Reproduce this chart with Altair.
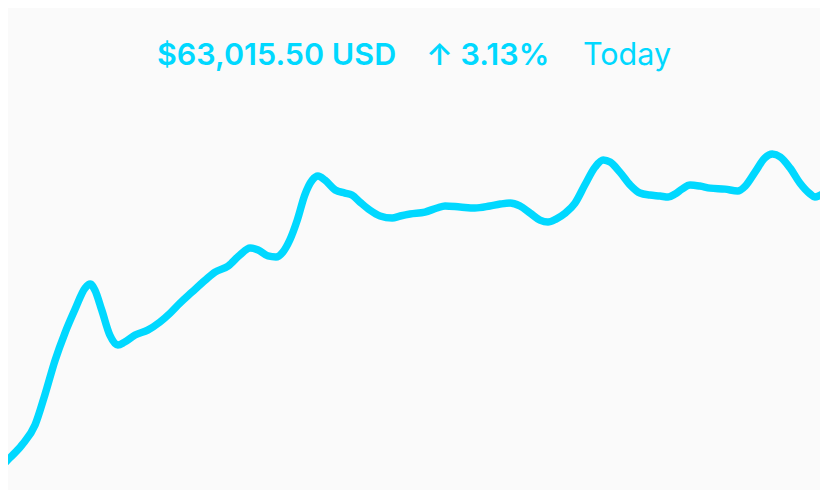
import altair as alt
import pandas as pd

# minutes since start of day
minutes = [0, 17, 38, 61, 78, 96, 113, 130, 148, 157, 165, 177, 191, 205, 217, 235,
           257, 278, 296, 313, 334, 357, 374, 397, 417, 435, 449, 466, 480, 492, 504,
           517, 530, 543, 553, 565, 583, 600, 612, 626, 643, 661, 682, 696, 713, 739,
           760, 774, 800, 826, 852, 870, 887, 904, 922, 939, 953, 967, 983, 1000, 1017,
           1035, 1049, 1061, 1078, 1096, 1113, 1130, 1148, 1162, 1174, 1186, 1200, 1217,
           1235, 1261, 1283, 1296, 1313, 1330, 1343, 1357, 1374, 1391, 1409, 1417, 1430, 1440]
# price in USD
prices = [61103, 61172, 61261, 61399, 61605, 61846, 62032, 62190, 62341, 62369, 62328,
          62190, 62018, 61949, 61970, 62018, 62052, 62107, 62169, 62238, 62314, 62396,
          62451, 62493, 62568, 62617, 62603, 62562, 62555, 62589, 62672, 62809, 62981,
          63084, 63112, 63084, 63016, 62995, 62981, 62933, 62878, 62837, 62823, 62837,
          62851, 62864, 62892, 62906, 62899, 62892, 62906, 62919, 62926, 62906, 62857,
          62809, 62795, 62816, 62857, 62926, 63050, 63174, 63222, 63208, 63139, 63050,
          62995, 62981, 62974, 62967, 62988, 63022, 63050, 63043, 63029, 63022, 63009,
          63043, 63139, 63236, 63263, 63243, 63167, 63064, 62988, 62967, 62988, 63016]

header_price = "$63,015.50 USD"
header_change = "↑ 3.13%"
header_period = "Today"

n = min(len(minutes), len(prices))
df = pd.DataFrame({"minute": minutes[:n], "price": prices[:n]})

CYAN = "#00d8ff"
FONT = "Inter"

line = alt.Chart(df).mark_line(
    color=CYAN, strokeWidth=7.5, interpolate="monotone", clip=True,
    strokeCap="round", strokeJoin="round"
).encode(
    x=alt.X("minute:Q", axis=None, scale=alt.Scale(domain=[14, 1426], nice=False, zero=False)),
    y=alt.Y("price:Q", axis=None, scale=alt.Scale(domain=[60952, 64268], nice=False, zero=False)),
)

def header(text, xpos, weight):
    return alt.Chart(pd.DataFrame({"t": [text]})).mark_text(
        align="left", baseline="alphabetic", font=FONT, fontSize=30.5,
        fontWeight=weight, color=CYAN
    ).encode(text="t:N", x=alt.value(xpos), y=alt.value(57))

chart = alt.layer(
    line,
    header(header_price, 149, 600),
    header(header_change, 418, 600),
    header(header_period, 575, "normal"),
).properties(
    width=812, height=482, background="#fafafa", padding=0,
    autosize=alt.AutoSizeParams(type="none"),
).configure_view(stroke=None)

chart.save("out.html", embed_options={"renderer": "svg", "actions": False})
